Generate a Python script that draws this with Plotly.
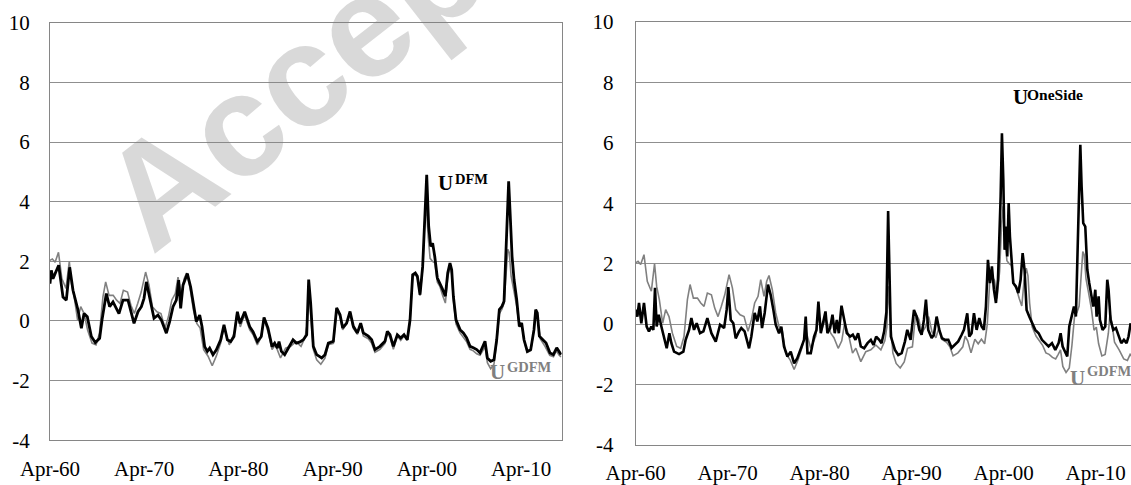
import plotly.graph_objects as go

# ---- data (decimal years, index values) ----
dfm_year = [1960.25, 1960.39, 1960.57, 1961.17, 1961.63, 1961.98, 1962.34, 1962.69, 1963.22, 1963.58,
            1963.86, 1964.21, 1964.64, 1965.06, 1965.52, 1965.77, 1966.23, 1966.58, 1966.94, 1967.57,
            1968.00, 1968.53, 1969.17, 1969.59, 1969.95, 1970.23, 1970.48, 1970.83, 1971.29, 1971.71,
            1972.07, 1972.60, 1972.95, 1973.31, 1973.66, 1973.91, 1974.12, 1974.37, 1974.83, 1975.18,
            1975.54, 1975.78, 1976.14, 1976.39, 1976.67, 1976.95, 1977.20, 1977.55, 1977.91, 1978.37,
            1978.72, 1979.08, 1979.43, 1979.78, 1980.14, 1980.42, 1980.92, 1981.45, 1981.80, 1982.26,
            1982.68, 1982.97, 1983.39, 1983.82, 1984.10, 1984.38, 1984.56, 1984.81, 1985.16, 1985.69,
            1986.05, 1986.40, 1986.79, 1987.14, 1987.50, 1987.71, 1987.92, 1988.20, 1988.56, 1989.09,
            1989.44, 1989.80, 1990.33, 1990.68, 1991.04, 1991.32, 1991.74, 1992.10, 1992.45, 1992.88,
            1993.23, 1993.51, 1994.04, 1994.40, 1994.75, 1995.28, 1995.81, 1996.06, 1996.34, 1996.70,
            1997.12, 1997.48, 1997.83, 1998.18, 1998.47, 1998.75, 1999.03, 1999.25, 1999.53, 1999.81,
            2000.02, 2000.24, 2000.45, 2000.66, 2000.87, 2001.09, 2001.37, 2001.65, 2001.94, 2002.22,
            2002.47, 2002.71, 2002.89, 2003.07, 2003.35, 2003.78, 2004.13, 2004.48, 2004.84, 2005.19,
            2005.55, 2005.90, 2006.18, 2006.43, 2006.68, 2007.03, 2007.38, 2007.67, 2007.95, 2008.23,
            2008.45, 2008.66, 2008.80, 2008.94, 2009.08, 2009.30, 2009.51, 2009.79, 2010.07, 2010.32,
            2010.57, 2010.92, 2011.28, 2011.63, 2011.81, 2011.98, 2012.20, 2012.55, 2012.91, 2013.33,
            2013.68, 2014.04, 2014.32, 2014.50]
dfm_value = [1.25, 1.70, 1.42, 1.87, 0.80, 0.70, 1.80, 1.03, 0.37, -0.24,
             0.25, 0.14, -0.52, -0.72, -0.58, 0.03, 0.92, 0.48, 0.64, 0.25,
             0.70, 0.70, -0.08, 0.31, 0.48, 0.76, 1.31, 0.81, 0.09, 0.20,
             0.03, -0.41, -0.02, 0.48, 0.70, 1.37, 0.42, 1.20, 1.59, 1.14,
             0.48, -0.02, 0.20, -0.19, -0.86, -1.02, -0.91, -1.13, -0.97, -0.63,
             -0.13, -0.63, -0.69, -0.52, 0.31, -0.08, 0.31, -0.19, -0.36, -0.69,
             -0.52, 0.12, -0.24, -0.86, -0.74, -0.91, -0.69, -1.02, -1.13, -0.86,
             -0.63, -0.74, -0.70, -0.63, -0.46, 1.39, 0.60, -0.85, -1.13, -1.24,
             -1.13, -0.74, -0.68, 0.44, 0.21, -0.23, -0.07, 0.32, -0.18, -0.40,
             -0.07, -0.40, -0.51, -0.63, -0.96, -0.85, -0.68, -0.35, -0.46, -0.85,
             -0.46, -0.57, -0.46, -0.63, 0.04, 1.55, 1.61, 1.50, 0.88, 1.83,
             3.40, 4.90, 3.17, 2.50, 2.61, 2.17, 1.44, 1.27, 1.05, 0.83,
             1.61, 1.94, 1.72, 0.83, 0.04, -0.29, -0.40, -0.57, -0.85, -0.90,
             -0.96, -1.07, -0.85, -0.68, -1.24, -1.35, -1.30, -0.63, 0.38, 0.49,
             0.66, 2.50, 3.73, 4.68, 3.73, 2.17, 1.39, 0.72, -0.18, -0.07,
             -0.63, -1.02, -0.96, -0.29, 0.38, 0.27, -0.51, -0.63, -0.74, -1.07,
             -1.13, -0.90, -1.07, -1.13]

gdfm_year = [1960.25, 1960.50, 1960.79, 1961.15, 1961.51, 1961.95, 1962.30, 1962.53, 1962.82, 1963.18,
             1963.51, 1963.87, 1964.24, 1964.71, 1965.14, 1965.50, 1965.87, 1966.16, 1966.52, 1966.96,
             1967.32, 1967.68, 1968.04, 1968.48, 1968.84, 1969.20, 1969.56, 1969.93, 1970.40, 1970.76,
             1971.12, 1971.60, 1972.03, 1972.46, 1972.82, 1973.18, 1973.55, 1973.84, 1974.20, 1974.49,
             1974.74, 1975.10, 1975.47, 1975.83, 1976.19, 1976.56, 1977.03, 1977.47, 1977.90, 1978.37,
             1978.73, 1979.28, 1979.82, 1980.11, 1980.45, 1980.90, 1981.45, 1981.80, 1982.26, 1982.65,
             1982.97, 1983.39, 1983.82, 1984.18, 1984.72, 1985.26, 1985.81, 1986.35, 1986.90, 1987.33,
             1987.55, 1987.71, 1987.90, 1988.20, 1988.56, 1989.00, 1989.44, 1989.80, 1990.33, 1990.68,
             1991.04, 1991.32, 1991.74, 1992.10, 1992.45, 1992.88, 1993.23, 1993.51, 1994.04, 1994.40,
             1994.75, 1995.28, 1995.81, 1996.06, 1996.34, 1996.70, 1997.12, 1997.48, 1997.83, 1998.18,
             1998.47, 1998.75, 1999.03, 1999.25, 1999.53, 1999.81, 2000.02, 2000.20, 2000.40, 2000.60,
             2000.85, 2001.09, 2001.37, 2001.65, 2001.94, 2002.22, 2002.47, 2002.71, 2002.89, 2003.07,
             2003.35, 2003.78, 2004.13, 2004.48, 2004.84, 2005.19, 2005.55, 2005.90, 2006.18, 2006.43,
             2006.68, 2007.03, 2007.38, 2007.67, 2007.95, 2008.23, 2008.45, 2008.66, 2008.85, 2009.00,
             2009.20, 2009.50, 2009.79, 2010.07, 2010.32, 2010.57, 2010.92, 2011.28, 2011.63, 2011.81,
             2011.98, 2012.30, 2012.80, 2013.30, 2013.70, 2014.00, 2014.30, 2014.50]
gdfm_value = [2.03, 2.08, 1.97, 2.30, 1.42, 1.09, 2.00, 1.25, 0.81, 0.03,
              0.48, 0.25, -0.30, -0.74, -0.80, -0.41, 0.81, 1.31, 0.86, 0.86,
              0.70, 0.59, 1.03, 0.97, 0.53, 0.25, 0.59, 0.97, 1.64, 1.20,
              0.48, 0.31, 0.25, -0.24, 0.14, 0.70, 0.92, 1.47, 0.92, 1.42,
              1.61, 1.14, 0.37, -0.08, -0.24, -0.96, -1.18, -1.50, -1.18, -0.74,
              -0.20, -0.80, -0.40, 0.30, -0.20, 0.20, -0.30, -0.45, -0.80, -0.55,
              0.05, -0.35, -0.96, -0.80, -1.24, -0.91, -0.85, -0.69, -0.85, -0.55,
              -0.10, 1.25, 0.30, -0.95, -1.30, -1.45, -1.25, -0.80, -0.75, 0.35,
              0.15, -0.30, -0.10, 0.25, -0.25, -0.45, -0.10, -0.50, -0.60, -0.75,
              -1.05, -0.95, -0.75, -0.40, -0.55, -0.95, -0.50, -0.65, -0.50, -0.65,
              0.00, 1.50, 1.55, 1.45, 0.85, 1.75, 3.30, 3.90, 2.80, 2.10,
              2.00, 1.95, 1.30, 1.15, 0.85, 0.60, 1.45, 1.85, 1.60, 0.70,
              -0.10, -0.40, -0.55, -0.70, -0.95, -1.00, -1.10, -1.15, -1.00, -0.85,
              -1.40, -1.60, -1.45, -0.70, 0.25, 0.40, 0.60, 1.60, 2.40, 2.30,
              1.50, 1.00, 0.50, -0.20, -0.10, -0.65, -1.05, -1.00, -0.30, 0.35,
              0.10, -0.60, -0.85, -1.15, -1.20, -1.00, -1.15, -1.20]

oneside_year = [1960.25, 1960.43, 1960.61, 1960.86, 1961.15, 1961.44, 1961.69, 1961.95, 1962.17, 1962.35,
                1962.53, 1962.75, 1963.04, 1963.33, 1963.62, 1963.91, 1964.13, 1964.42, 1964.96, 1965.43,
                1965.68, 1966.05, 1966.30, 1966.59, 1966.88, 1967.24, 1967.61, 1968.04, 1968.48, 1968.95,
                1969.42, 1969.86, 1970.14, 1970.32, 1970.58, 1970.86, 1971.12, 1971.48, 1971.73, 1972.09,
                1972.57, 1972.82, 1973.18, 1973.47, 1973.76, 1973.98, 1974.27, 1974.63, 1974.92, 1975.21,
                1975.47, 1975.83, 1976.08, 1976.37, 1976.74, 1977.10, 1977.47, 1977.82, 1978.19, 1978.55,
                1978.73, 1978.92, 1979.28, 1979.64, 1979.90, 1980.11, 1980.37, 1980.62, 1980.88, 1981.09,
                1981.38, 1981.64, 1981.89, 1982.11, 1982.33, 1982.62, 1982.91, 1983.20, 1983.56, 1983.85,
                1984.14, 1984.43, 1984.72, 1985.08, 1985.45, 1985.81, 1986.10, 1986.39, 1986.72, 1986.97,
                1987.26, 1987.50, 1987.69, 1987.81, 1987.99, 1988.43, 1988.79, 1989.16, 1989.52, 1989.77,
                1990.13, 1990.50, 1990.79, 1991.08, 1991.33, 1991.58, 1991.80, 1992.05, 1992.42, 1992.67,
                1992.96, 1993.25, 1993.54, 1993.87, 1994.23, 1994.59, 1994.95, 1995.31, 1995.68, 1995.93,
                1996.29, 1996.51, 1996.76, 1997.02, 1997.31, 1997.60, 1997.85, 1998.10, 1998.32, 1998.54,
                1998.76, 1998.97, 1999.19, 1999.41, 1999.63, 1999.77, 1999.92, 2000.06, 2000.21, 2000.35,
                2000.50, 2000.64, 2000.79, 2000.93, 2001.11, 2001.29, 2001.58, 2001.84, 2002.09, 2002.31,
                2002.52, 2002.74, 2003.03, 2003.32, 2003.68, 2004.05, 2004.41, 2004.77, 2005.13, 2005.50,
                2005.86, 2006.22, 2006.44, 2006.66, 2006.94, 2007.16, 2007.38, 2007.60, 2007.89, 2008.10,
                2008.32, 2008.47, 2008.58, 2008.72, 2008.90, 2009.12, 2009.34, 2009.55, 2009.77, 2009.99,
                2010.21, 2010.35, 2010.57, 2010.71, 2011.00, 2011.29, 2011.51, 2011.65, 2011.87, 2012.16,
                2012.45, 2012.74, 2013.03, 2013.32, 2013.61, 2013.82, 2014.05]
oneside_value = [0.48, 0.25, 0.70, 0.03, 0.70, -0.08, -0.24, -0.08, -0.19, 1.20,
                 -0.08, 0.31, -0.08, -0.41, -0.80, -0.30, -0.63, -0.91, -0.99, -0.91,
                 -0.52, -0.19, 0.20, -0.19, 0.03, -0.30, -0.24, 0.20, -0.30, -0.58,
                 -0.02, -0.13, 0.48, 1.23, 0.14, 0.03, -0.47, -0.24, -0.13, -0.24,
                 -0.80, -0.41, 0.37, 0.09, 0.59, -0.13, 0.37, 1.31, 0.97, 0.48,
                 -0.02, -0.30, -0.08, -0.74, -1.07, -0.91, -1.30, -1.13, -0.85, -0.52,
                 0.25, -0.96, -0.96, -0.41, -0.19, 0.75, -0.30, 0.09, 0.42, -0.30,
                 -0.13, 0.31, -0.30, 0.14, -0.30, 0.61, 0.20, -0.30, -0.41, -0.35,
                 -0.52, -0.30, -0.74, -0.80, -0.63, -0.52, -0.69, -0.41, -0.52, -0.63,
                 -0.24, 0.40, 3.74, 1.69, -0.41, -0.85, -1.02, -0.96, -0.57, -0.19,
                 -0.52, 0.47, 0.25, -0.19, -0.35, 0.14, 0.81, -0.19, -0.46, -0.35,
                 0.25, -0.19, -0.46, -0.52, -0.52, -0.79, -0.68, -0.57, -0.35, -0.19,
                 0.36, -0.41, -0.30, 0.36, -0.19, 0.20, -0.08, -0.19, 0.58, 2.13,
                 1.36, 1.91, 1.14, 0.70, 1.47, 2.68, 4.23, 6.32, 4.78, 2.46,
                 3.23, 2.24, 4.01, 2.90, 1.91, 1.36, 1.25, 1.03, 1.47, 2.35,
                 1.80, 0.47, 0.25, 0.03, -0.19, -0.30, -0.52, -0.63, -0.74, -0.63,
                 -0.85, -0.63, -0.30, -0.74, -0.96, -1.07, -0.08, 0.25, 0.58, 0.25,
                 2.68, 4.56, 5.94, 4.56, 3.34, 3.23, 1.80, 1.36, 1.03, 0.58,
                 1.14, 0.25, 0.92, 0.14, -0.19, -0.08, 1.47, 1.14, 0.14, -0.19,
                 -0.13, -0.41, -0.63, -0.52, -0.63, -0.41, 0.03]

tick_years = [1960.25, 1970.25, 1980.25, 1990.25, 2000.25, 2010.25]
tick_labels = ["Apr-60", "Apr-70", "Apr-80", "Apr-90", "Apr-00", "Apr-10"]
y_ticks = [-4, -2, 0, 2, 4, 6, 8, 10]
y_labels = ["-4", "-2", "0", "2", "4", "6", "8", "10"]

# ---- styling ----
SERIF = "Liberation Serif"
BLACK = "#000000"
GREY = "#808080"
GRID = "#8f8f8f"
FRAME = "#868686"
W, H = 1131, 485

fig = go.Figure()

# left panel: GDFM vs DFM
fig.add_trace(go.Scatter(x=gdfm_year, y=gdfm_value, mode="lines",
                         line=dict(color=GREY, width=1.6), xaxis="x", yaxis="y",
                         showlegend=False, hoverinfo="skip"))
fig.add_trace(go.Scatter(x=dfm_year, y=dfm_value, mode="lines",
                         line=dict(color=BLACK, width=2.8), xaxis="x", yaxis="y",
                         showlegend=False, hoverinfo="skip"))

# right panel: GDFM vs one-sided estimate
fig.add_trace(go.Scatter(x=gdfm_year, y=gdfm_value, mode="lines",
                         line=dict(color=GREY, width=1.6), xaxis="x2", yaxis="y2",
                         showlegend=False, hoverinfo="skip"))
fig.add_trace(go.Scatter(x=oneside_year, y=oneside_value, mode="lines",
                         line=dict(color=BLACK, width=2.6), xaxis="x2", yaxis="y2",
                         showlegend=False, hoverinfo="skip"))

tickfont = dict(family=SERIF, size=21, color=BLACK)


def x_axis(domain, rng, anchor):
    return dict(domain=domain, range=rng, anchor=anchor,
                tickmode="array", tickvals=tick_years, ticktext=tick_labels,
                tickfont=tickfont, showgrid=False, zeroline=False,
                showline=True, linecolor=FRAME, linewidth=1, mirror=True,
                ticks="outside", ticklen=9, tickcolor="rgba(0,0,0,0)",
                automargin=False)


def y_axis(domain, anchor, mirror, standoff):
    return dict(domain=domain, range=[-4, 10], anchor=anchor,
                tickmode="array", tickvals=y_ticks, ticktext=y_labels,
                tickfont=tickfont, showgrid=True, gridcolor=GRID, gridwidth=1,
                zeroline=False, showline=True, linecolor=FRAME, linewidth=1,
                mirror=mirror, ticks="outside", ticklen=standoff,
                tickcolor="rgba(0,0,0,0)", automargin=False)


fig.update_layout(
    width=W, height=H,
    margin=dict(l=0, r=0, t=0, b=0, pad=0, autoexpand=False),
    paper_bgcolor="white", plot_bgcolor="white",
    xaxis=x_axis([50 / W, 561.7 / W], [1960.25, 2014.57], "y"),
    yaxis=y_axis([(H - 440.3) / H, (H - 22.7) / H], "x", True, 15),
    xaxis2=x_axis([635.7 / W, 1.0], [1960.25, 2014.09], "y2"),
    yaxis2=y_axis([(H - 445) / H, (H - 22) / H], "x2", False, 17),
)


def series_label(base, sup, colour, xref, yref, bx, by, sx, sy, sup_size):
    """A bold 'U' with its superscript tag, placed as two text pieces."""
    common = dict(xref=xref, yref=yref, showarrow=False,
                  xanchor="left", yanchor="bottom")
    return [
        dict(text="<b>%s</b>" % base, x=bx, y=by,
             font=dict(family=SERIF, size=21, color=colour), **common),
        dict(text="<b>%s</b>" % sup, x=sx, y=sy,
             font=dict(family=SERIF, size=sup_size, color=colour), **common),
    ]


annotations = []
annotations += series_label("U", "DFM", BLACK, "x", "y",
                            2001.26, 4.150, 2003.00, 4.422, 14.5)
annotations += series_label("U", "GDFM", GREY, "x", "y",
                            2006.75, -2.196, 2008.55, -1.887, 14.5)
annotations += series_label("U", "OneSide", BLACK, "x2", "y2",
                            2001.01, 7.070, 2002.62, 7.256, 15.5)
annotations += series_label("U", "GDFM", GREY, "x2", "y2",
                            2007.24, -2.231, 2009.05, -1.894, 14.5)

# diagonal manuscript watermark
annotations.append(dict(text="<b>Accepted</b>", x=378 / W, y=(H - 16) / H,
                        xref="paper", yref="paper", showarrow=False,
                        xanchor="center", yanchor="middle", textangle=-38,
                        font=dict(family="Liberation Sans", size=145,
                                  color="rgba(128,128,128,0.30)")))
fig.update_layout(annotations=annotations)

fig.write_html("out.html")
